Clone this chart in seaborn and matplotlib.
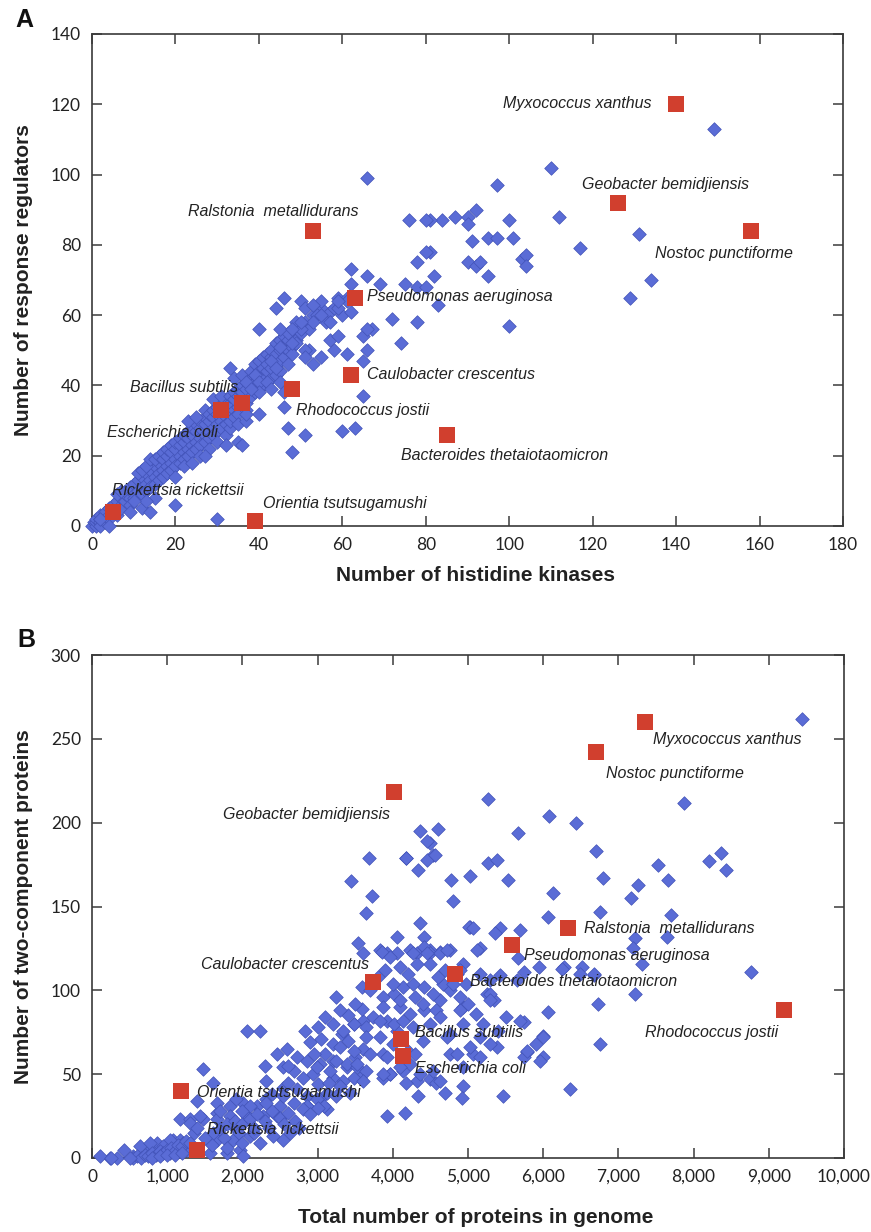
import numpy as np
import pandas as pd
import matplotlib
matplotlib.use("Agg")
import matplotlib.pyplot as plt
import seaborn as sns

# ---------------- DATA ----------------
# Panel A: histidine kinases (x) vs response regulators (y)
species_a = ["Myxococcus xanthus", "Geobacter bemidjiensis", "Nostoc punctiforme",
             "Ralstonia  metallidurans", "Pseudomonas aeruginosa", "Caulobacter crescentus",
             "Rhodococcus jostii", "Bacillus subtilis", "Escherichia coli",
             "Bacteroides thetaiotaomicron", "Rickettsia rickettsii", "Orientia tsutsugamushi"]
hk_a = [140, 126, 158, 53, 63, 62, 48, 36, 31, 85, 5, 39]
rr_a = [120, 92, 84, 84, 65, 43, 39, 35, 33, 26, 4, 1.5]

a_spread = [(149,113),(110,102),(97,97),(92,90),(84,87),(87,88),(90,88),(90,86),(100,87),(112,88),
            (131,83),(91,81),(95,82),(97,82),(101,82),(117,79),(90,75),(92,74),(93,75),(103,76),
            (104,77),(104,74),(95,71),(82,71),(134,70),(129,65),(100,57),(83,63),(81,87),(81,78),
            (66,99),(76,87),(80,87),(80,78),(78,75),(62,73),(66,71),(69,69),(62,69),(75,69),
            (78,68),(80,68),(46,65),(50,64),(55,64),(59,65),(61,65),(72,59),(78,58),(74,52),
            (61,64),(59,62),(62,61),(67,56),(65,54),(66,50),(65,47),(61,49),(65,37),(44,62),
            (51,62),(40,56),(54,60),(53,58),(56,58),(49,58),(50,56),(47,55),(45,56),(49,52),
            (51,50),(48,49),(51,48),(53,46),(55,48),(58,50),(57,53),(59,54),(45,51),(43,47),
            (44,45),(47,46),(33,45),(39,43),(37,41),(40,41),(42,41),(43,39),(45,41),(46,38),
            (40,38),(38,39),(48,56),(50,58),(48,52),(53,63),(55,60),(57,58),(59,64),(66,56),
            (63,28),(60,27),(47,28),(51,26),(48,21),(46,34),(20,6),(30,2),(14,4),(13,7),
            (9,4),(10,7),(4,0),(2,2),(20,14),(27,20),(32,23),(35,24),(36,23),(40,32),(37,32)]

a_band = [(0,0),(0.5,1),(1,0),(1,1),(1,2),(2,1),(2,2),(2,3),(3,2),(3,3),(3,4),(4,3),(4,5),(5,4),
          (5,6),(2,0),(3,1),(4,2),(6,3),(6,5),(6,7),(7,6),(7,8),(7,5),(8,7),(8,9),(8,10),(9,8),
          (9,6),(9,11),(10,9),(10,12),(10,8),(11,10),(11,13),(12,11),(12,14),(12,9),(6,9),(7,10),
          (13,12),(13,15),(13,10),(14,13),(14,16),(14,11),(15,14),(15,17),(15,12),(16,15),(16,18),
          (16,13),(11,15),(12,16),(13,17),(14,19),(15,19),(16,20),(12,5),(15,8),(17,16),(17,19),
          (17,21),(17,14),(18,17),(18,20),(18,22),(18,15),(19,18),(19,21),(19,23),(19,16),(20,19),
          (20,22),(20,24),(20,17),(21,20),(21,23),(21,25),(21,18),(22,21),(22,24),(22,26),(22,19),
          (22,17),(23,22),(23,25),(23,27),(23,20),(24,23),(24,26),(24,28),(24,21),(25,24),(25,27),
          (25,29),(25,22),(26,25),(26,28),(26,30),(26,23),(27,26),(27,29),(27,31),(27,24),(23,30),
          (25,31),(27,33),(24,18),(26,20),(28,27),(28,30),(28,32),(28,25),(29,28),(29,31),(29,33),
          (29,26),(30,29),(30,32),(30,34),(30,27),(31,30),(31,35),(31,28),(32,31),(32,34),(32,36),
          (32,29),(29,36),(31,37),(28,22),(30,24),(32,26),(33,28),(33,32),(33,35),(33,37),(33,30),
          (34,33),(34,36),(34,38),(34,31),(35,34),(35,37),(35,39),(35,32),(36,36),(36,38),(36,40),
          (37,35),(37,39),(37,41),(37,33),(34,42),(36,43),(35,29),(37,30),(38,37),(38,40),(38,42),
          (38,44),(39,38),(39,41),(39,43),(39,46),(40,39),(40,42),(40,44),(40,47),(41,40),(41,43),
          (41,45),(41,48),(42,41),(42,44),(42,46),(42,49),(43,42),(43,45),(43,48),(43,50),(44,43),
          (44,46),(44,49),(44,52),(45,44),(45,47),(45,50),(45,53),(46,48),(46,51),(46,54),(47,50),
          (47,53),(48,51),(48,55),(49,53),(50,55),(51,58),(52,56),(53,60),(55,62),(56,59),(57,61),
          (58,62),(60,60),(52,50)]

# Panel B: total proteins (x) vs two-component proteins (y)
species_b = ["Myxococcus xanthus", "Nostoc punctiforme", "Geobacter bemidjiensis",
             "Ralstonia  metallidurans", "Pseudomonas aeruginosa", "Bacteroides thetaiotaomicron",
             "Rhodococcus jostii", "Caulobacter crescentus", "Bacillus subtilis",
             "Escherichia coli", "Orientia tsutsugamushi", "Rickettsia rickettsii"]
prot_b = [7350, 6700, 4020, 6330, 5580, 4830, 9200, 3740, 4110, 4130, 1190, 1390]
tcs_b = [260, 242, 218, 137, 127, 110, 88, 105, 71, 61, 40, 5]

b_spread = [(9440,262),(5260,214),(7870,212),(6080,204),(6440,200),(4600,196),(5660,194),(4500,188),
            (4540,181),(5270,176),(5380,178),(6700,183),(7520,175),(7660,166),(8200,177),(8360,182),
            (8430,172),(4780,166),(5020,168),(5530,166),(4800,153),(6790,167),(7260,163),(7170,155),
            (6130,158),(6750,147),(7700,145),(6070,144),(5030,138),(5430,137),(5690,136),(5360,134),
            (7220,131),(7650,132),(5160,125),(4760,124),(4630,123),(4500,124),(5670,119),(7200,125),
            (7310,116),(6270,114),(6510,114),(6670,109),(8760,111),(7220,98),(6730,92),(6070,87),
            (5250,98),(5340,94),(4940,90),(4760,100),(4630,94),(5740,81),(6000,73),(5910,68),
            (6750,68),(5780,63),(6000,60),(4940,43),(4920,36),(4690,39),(5470,37),(6350,41),
            (5380,66),(5070,62),(4760,62),(5160,72),(4760,74),(4500,47),(4580,45),(4360,195),
            (4450,189),(4180,179),(4340,172),(4450,178),(4560,181),(4360,140),(4410,132),(4050,132),
            (5010,138),(5070,137),(3830,124),(3920,122),(4050,122),(4230,124),(4320,122),(4410,126),
            (4500,122),(4630,122),(4720,124),(4940,116),(4850,110),(5120,124),(5160,110),(5290,106),
            (5430,109),(5650,106),(5740,111),(5940,114),(6250,113),(6490,110),(6670,110),(3870,96),
            (4010,98),(4140,102),(4270,104),(4410,102),(4540,98),(4670,104),(4100,90),(4230,86),
            (4410,88),(4580,88),(3920,82),(4050,76),(4270,78),(4500,80),(4630,84),(4890,88),
            (4940,80),(4720,72),(5030,66),(5290,68),(5160,60),(4850,62),(4940,54),(4540,52),
            (4630,46),(4360,50),(4230,56),(3960,50),(3870,62),(5690,82),(5740,60),(5960,58),
            (6000,72),(5780,64),(5290,98),(5290,94),(4980,104),(4890,112),(3690,179),(4170,179),
            (3440,165),(3720,156),(3640,146),(3540,128),(3610,122),(3850,123),(3960,120),(4100,114),
            (4270,122),(4450,122),(4500,116),(4320,116),(3590,102),(3250,96),(3590,89),(3740,84),
            (3870,90),(4100,94),(3830,82),(4010,80),(4140,82),(3650,78),(3480,80),(3340,76),
            (3300,66),(3480,64),(3650,72),(3830,72),(3920,60),(3700,62),(3520,56),(3870,50),
            (4100,54),(4340,37),(3920,25),(4160,27),(3700,100),(3800,108),(3900,112),(4000,104),
            (4200,110),(4300,96),(4400,92),(4600,108),(4700,112),(4800,104),(4900,96),(5000,92),
            (5100,86),(5200,80),(5400,76),(5500,84),(4000,68),(4200,64),(4400,70),(4300,62),
            (3500,92),(3400,85),(3300,88),(3200,80),(3000,78),(3100,84)]

b_band = [(2830,76),(3050,71),(2590,65),(2460,62),(2720,60),(2860,58),(3030,56),(3210,58),(3390,54),
          (3560,48),(3210,48),(2940,50),(2680,52),(2540,54),(2060,76),(2230,76),(1480,53),(1170,23),
          (1300,23),(1390,34),(1610,45),(1480,23),(1660,27),(1840,31),(2010,33),(2190,31),(2320,35),
          (2500,31),(2680,33),(2860,31),(3030,35),(3120,29),(1840,25),(2060,25),(2280,25),(2460,25),
          (2320,46),(2540,42),(990,5),(860,9),(730,3),(550,1),(420,5),(240,0),(110,1),(330,0),
          (640,7),(820,3),(1080,11),(1040,3),(1260,5),(1570,3),(1790,3),(1970,5),(2010,1),(1660,11),
          (1880,11),(2100,13),(2230,9),(2410,13),(2540,11),(2630,15),(2150,15),(1880,19),(1610,15),
          (1350,15),(1170,11),(3320,74),(3480,80),(3610,82),(3100,62),(3250,58),(2990,54),(3170,52),
          (3390,56),(3520,54),(3650,52),(3480,48),(3610,46),(3340,46),(3870,48),(3960,50),(4140,52),
          (4320,46),(4180,45),(2720,41),(2860,37),(2990,35),(3120,39),(3250,37),(3430,39),(2860,31),
          (3080,31),(2540,37),(1660,33),(1920,35),(2100,31),(2320,33),(1300,21),(1440,25),(1660,23),
          (1040,11),(1210,9),(770,9),(950,7),(250,0),(550,0),(600,1),(650,0),(700,2),(750,1),
          (800,3),(850,2),(900,4),(950,3),(1000,5),(1050,6),(1100,4),(1150,8),(1200,7),(1250,10),
          (1300,9),(500,0),(800,0),(900,1),(1000,2),(1100,2),(1200,3),(1700,17),(1800,20),(1900,22),
          (2000,20),(2100,23),(2200,26),(2300,22),(2400,28),(2500,24),(2600,27),(2700,22),(2800,29),
          (2900,26),(3000,30),(1750,12),(1950,15),(2150,18),(2350,18),(2550,20),(2750,18),(1600,8),
          (1800,6),(2000,9),(1500,12),(1400,18),(1700,28),(2000,28),(2400,38),(2600,45),(2800,48),
          (3000,44),(3300,43),(3500,60),(3600,65),(3200,68),(3400,70),(2900,69),(2300,55),(2600,55),
          (2950,62),(3150,45)]

xticks_a = [0, 20, 40, 60, 80, 100, 120, 140, 160, 180]
yticks_a = [0, 20, 40, 60, 80, 100, 120, 140]
xticks_b = [0, 1000, 2000, 3000, 4000, 5000, 6000, 7000, 8000, 9000, 10000]
xticklabels_b = ["0", "1,000", "2,000", "3,000", "4,000", "5,000", "6,000", "7,000",
                 "8,000", "9,000", "10,000"]
yticks_b = [0, 50, 100, 150, 200, 250, 300]

# label placement (left edge x, centre y, in data units)
lab_a = {"Myxococcus xanthus": (98.5, 120.1), "Geobacter bemidjiensis": (117.4, 97.3),
         "Nostoc punctiforme": (135, 77.4), "Ralstonia  metallidurans": (23, 89.6),
         "Pseudomonas aeruginosa": (65.9, 65.2), "Caulobacter crescentus": (65.9, 43),
         "Rhodococcus jostii": (48.9, 33), "Bacillus subtilis": (9.1, 39.3),
         "Escherichia coli": (3.6, 26.5), "Bacteroides thetaiotaomicron": (74.1, 20.2),
         "Rickettsia rickettsii": (4.8, 10.2), "Orientia tsutsugamushi": (41, 6.3)}
lab_b = {"Myxococcus xanthus": (7460, 249.8), "Nostoc punctiforme": (6831, 229.4),
         "Geobacter bemidjiensis": (1738, 205), "Ralstonia  metallidurans": (6547, 137),
         "Pseudomonas aeruginosa": (5745, 120.5), "Bacteroides thetaiotaomicron": (5027, 105.1),
         "Rhodococcus jostii": (7354, 75), "Caulobacter crescentus": (1449, 115.5),
         "Bacillus subtilis": (4295, 75), "Escherichia coli": (4295, 53.5),
         "Orientia tsutsugamushi": (1400, 39), "Rickettsia rickettsii": (1525, 16.7)}

# ---------------- PLOT ----------------
sns.set_theme(style="white")
plt.rcParams['font.family'] = ['Liberation Sans', 'DejaVu Sans']

BLUE = "#5a6cd6"
EDGE = "#4253b8"
RED = "#d13f2e"

W, H = 871, 1232
fig = plt.figure(figsize=(W / 100, H / 100), dpi=100)
axA = fig.add_axes([92 / W, 1 - 526 / H, (843 - 92) / W, (526 - 34) / H])
axB = fig.add_axes([92 / W, 1 - 1158 / H, (844 - 92) / W, (1158 - 655) / H])

dfa_bg = pd.DataFrame(a_band + a_spread, columns=["hk", "rr"])
dfa_hl = pd.DataFrame({"hk": hk_a, "rr": rr_a, "species": species_a})
dfb_bg = pd.DataFrame(b_band + b_spread, columns=["prot", "tcs"])
dfb_hl = pd.DataFrame({"prot": prot_b, "tcs": tcs_b, "species": species_b})


def style_axes(ax):
    for sp in ax.spines.values():
        sp.set_visible(True)
        sp.set_color("#3a3a3a")
        sp.set_linewidth(1.2)
    ax.tick_params(direction="in", length=7, width=1.1, color="#3a3a3a",
                   bottom=True, left=True, top=True, right=True,
                   labeltop=False, labelright=False, labelsize=12.5, pad=8,
                   labelcolor="#222222")
    for lab in ax.get_xticklabels() + ax.get_yticklabels():
        lab.set_fontfamily("Lato")


# Panel A
sns.scatterplot(data=dfa_bg, x="hk", y="rr", marker="D", s=48, color=BLUE,
                edgecolor=EDGE, linewidth=0.5, ax=axA, clip_on=False, zorder=3)
sns.scatterplot(data=dfa_hl, x="hk", y="rr", marker="s", s=120, color=RED,
                edgecolor=RED, linewidth=0, ax=axA, clip_on=False, zorder=4)
for sp_name in species_a:
    lx, ly = lab_a[sp_name]
    axA.text(lx, ly, sp_name, style="italic", fontsize=11.5, ha="left", va="center",
             color="#222222", zorder=5)
axA.set_xlim(0, 180)
axA.set_ylim(0, 140)
axA.set_xticks(xticks_a)
axA.set_yticks(yticks_a)
style_axes(axA)
axA.set_xlabel("Number of histidine kinases", fontsize=15, fontweight="bold", color="#222222")
axA.set_ylabel("Number of response regulators", fontsize=15, fontweight="bold", color="#222222")
axA.xaxis.set_label_coords(0.51, -0.082)
axA.yaxis.set_label_coords(-0.078, 0.5)

# Panel B
sns.scatterplot(data=dfb_bg, x="prot", y="tcs", marker="D", s=48, color=BLUE,
                edgecolor=EDGE, linewidth=0.5, ax=axB, clip_on=False, zorder=3)
sns.scatterplot(data=dfb_hl, x="prot", y="tcs", marker="s", s=120, color=RED,
                edgecolor=RED, linewidth=0, ax=axB, clip_on=False, zorder=4)
for sp_name in species_b:
    lx, ly = lab_b[sp_name]
    axB.text(lx, ly, sp_name, style="italic", fontsize=11.5, ha="left", va="center",
             color="#222222", zorder=5)
axB.set_xlim(0, 10000)
axB.set_ylim(0, 300)
axB.set_xticks(xticks_b)
axB.set_xticklabels(xticklabels_b)
axB.set_yticks(yticks_b)
style_axes(axB)
axB.set_xlabel("Total number of proteins in genome", fontsize=15, fontweight="bold", color="#222222")
axB.set_ylabel("Number of two-component proteins", fontsize=15, fontweight="bold", color="#222222")
axB.xaxis.set_label_coords(0.51, -0.1)
axB.yaxis.set_label_coords(-0.078, 0.5)

fig.text(15 / W, 1 - 8 / H, "A", fontsize=18, fontweight="bold", ha="left", va="top", color="#111111")
fig.text(17 / W, 1 - 628 / H, "B", fontsize=18, fontweight="bold", ha="left", va="top", color="#111111")

fig.savefig("out.png", dpi=100)
